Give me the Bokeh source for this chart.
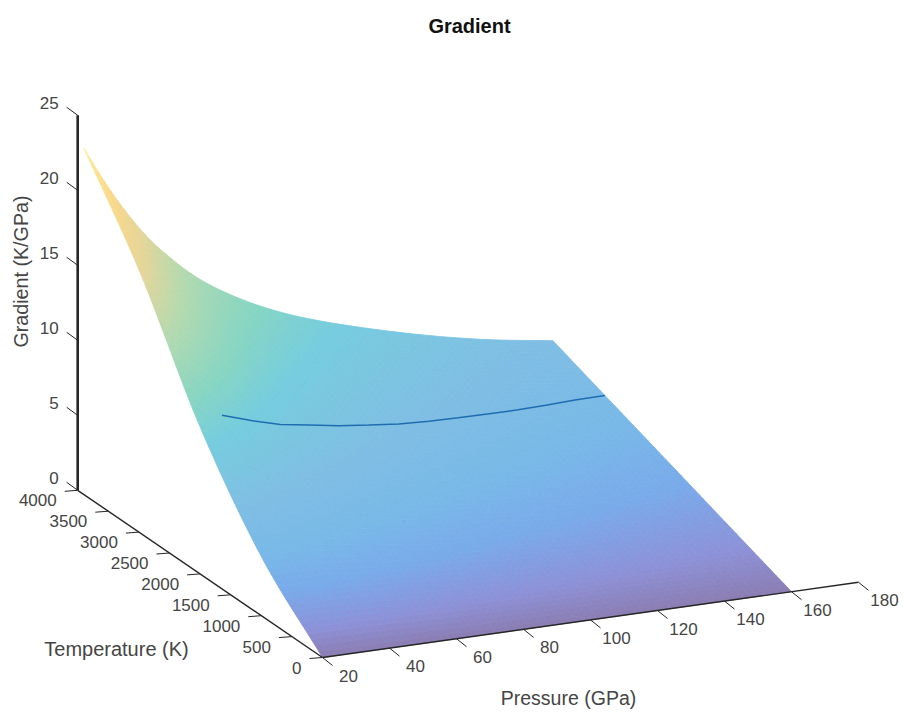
import numpy as np
from bokeh.plotting import figure
from bokeh.models import Range1d, ColumnDataSource
from bokeh.core.properties import value
from bokeh.embed import file_html
from bokeh.resources import INLINE

TITLE = "Gradient"
XLABEL = "Pressure (GPa)"
YLABEL = "Temperature (K)"
ZLABEL = "Gradient (K/GPa)"
P_TICKS = [20, 40, 60, 80, 100, 120, 140, 160, 180]
T_TICKS = [0, 500, 1000, 1500, 2000, 2500, 3000, 3500, 4000]
G_TICKS = [0, 5, 10, 15, 20, 25]

# surface
PRESSURE = [20, 25, 30, 35, 40, 45, 50, 55, 60, 70, 80, 90, 100, 110, 120, 130, 140, 150, 160]
TEMPERATURE = [0, 1000, 2000, 3000, 3900]
G_T0000 = [0.0] * 19
G_T1000 = [3.95, 3.9, 3.82, 3.72, 3.58, 3.44, 3.28, 3.13, 3.0, 2.74, 2.55, 2.35, 2.19, 2.05, 1.92, 1.79, 1.68, 1.59, 1.5]
G_T2000 = [9.8, 9.2, 8.65, 8.1, 7.65, 7.2, 6.8, 6.45, 6.15, 5.6, 5.12, 4.74, 4.42, 4.1, 3.83, 3.57, 3.36, 3.18, 3.01]
G_T3000 = [17.5, 16.0, 14.7, 13.5, 12.5, 11.6, 10.8, 10.1, 9.55, 8.6, 7.85, 7.2, 6.7, 6.22, 5.79, 5.38, 5.05, 4.77, 4.51]
G_T3900 = [23.1, 21.1, 19.3, 17.7, 16.3, 15.15, 14.1, 13.2, 12.45, 11.2, 10.2, 9.4, 8.72, 8.1, 7.53, 7.02, 6.57, 6.2, 5.87]

# curve lying on the surface
LINE_P = [30, 40, 50, 60, 70, 80, 90, 100, 110, 120, 130, 140, 150, 160]
LINE_T = [2190, 2260, 2330, 2410, 2470, 2530, 2585, 2640, 2710, 2780, 2850, 2920, 2990, 3050]

# colour against gradient value
CMAP_G = [0, 1.0, 2.5, 4.0, 6.0, 9.0, 11.0, 14.0, 17.0, 20.0, 23.0]
CMAP_R = [139, 142, 122, 120, 128, 118, 135, 178, 228, 250, 255]
CMAP_C = [125, 145, 170, 185, 190, 205, 214, 218, 214, 217, 236]
CMAP_B = [178, 215, 235, 232, 228, 222, 195, 176, 154, 140, 150]

TABLE = np.array([G_T0000, G_T1000, G_T2000, G_T3000, G_T3900])


def project(P, T, G):
    P, T, G = np.asarray(P, float), np.asarray(T, float), np.asarray(G, float)
    return 322 + 3.35 * (P - 20) - 0.0612 * T, 657 - 0.47 * (P - 20) - 0.0418 * T - 15.0 * G


def hermite(x, knots, vals):
    knots, vals = np.asarray(knots, float), np.asarray(vals, float)
    m = np.gradient(vals, knots)
    i = np.clip(np.searchsorted(knots, x) - 1, 0, len(knots) - 2)
    h = knots[i + 1] - knots[i]
    t = (x - knots[i]) / h
    return ((2 * t**3 - 3 * t**2 + 1) * vals[i] + (t**3 - 2 * t**2 + t) * h * m[i]
            + (-2 * t**3 + 3 * t**2) * vals[i + 1] + (t**3 - t**2) * h * m[i + 1])


def lookup(P, T):
    return hermite(T, TEMPERATURE, [hermite(P, PRESSURE, row) for row in TABLE])


p = figure(width=908, height=712, x_range=Range1d(0, 908), y_range=Range1d(712, 0),
           output_backend="svg", toolbar_location=None, min_border=0,
           x_axis_location=None, y_axis_location=None, outline_line_color=None,
           background_fill_color="white", border_fill_color="white")
p.grid.visible = False

# surface mesh
pm = np.arange(20, 160.01, 2.0)
tm = np.arange(0, 3900.01, 60.0)
xs, ys, cols = [], [], []
gm = np.array([[lookup(a, b) for a in pm] for b in tm])
sx, sy = project(*np.broadcast_arrays(pm[None, :], tm[:, None], gm))
for j in range(len(tm) - 1):
    for i in range(len(pm) - 1):
        g = gm[j:j + 2, i:i + 2].mean()
        xs.append([sx[j, i], sx[j, i + 1], sx[j + 1, i + 1], sx[j + 1, i]])
        ys.append([sy[j, i], sy[j, i + 1], sy[j + 1, i + 1], sy[j + 1, i]])
        r, c, b = np.interp(g, CMAP_G, CMAP_R), np.interp(g, CMAP_G, CMAP_C), np.interp(g, CMAP_G, CMAP_B)
        cols.append("#%02x%02x%02x" % (int(r), int(c), int(b)))
p.patches(xs="xs", ys="ys", fill_color="cols", line_color="cols", line_width=0.8,
          source=ColumnDataSource(dict(xs=xs, ys=ys, cols=cols)))

# curve
lg = [lookup(a, b) for a, b in zip(LINE_P, LINE_T)]
lx, ly = project(LINE_P, LINE_T, lg)
p.line(lx, ly, line_color="#1f6db0", line_width=1.5)

# axes
INK = "#262626"
TXT = "#454545"
FONT = value("Liberation Sans")
ax, ay = project([20, 180], [0, 0], [0, 0])
p.line(ax, ay, line_color=INK, line_width=1.4)
ax, ay = project([20, 20], [0, 4000], [0, 0])
p.line(ax, ay, line_color=INK, line_width=1.4)
ax, ay = project([20, 20], [4000, 4000], [0, 25])
p.line(ax, ay, line_color=INK, line_width=2.6)

zero = [0] * 9
tx, ty = project(P_TICKS, zero, zero)
p.segment(tx, ty, tx + 10, ty + 8, line_color=INK, line_width=1)
p.text(tx + 26, ty + 18, text=[str(v) for v in P_TICKS], text_font=FONT,
       text_font_size="17px", text_color=TXT, text_align="center", text_baseline="middle")

tx, ty = project([20] * 9, T_TICKS, zero)
p.segment(tx, ty, tx - 13, ty + 1, line_color=INK, line_width=1)
p.text(tx - 21, ty + 10, text=[str(v) for v in T_TICKS], text_font=FONT,
       text_font_size="17px", text_color=TXT, text_align="right", text_baseline="middle")

n = len(G_TICKS)
tx, ty = project([20] * n, [4000] * n, G_TICKS)
p.segment(tx, ty, tx - 11, ty - 8, line_color=INK, line_width=1)
p.text(tx - 19, ty - 12, text=[str(v) for v in G_TICKS], text_font=FONT,
       text_font_size="17px", text_color=TXT, text_align="right", text_baseline="middle")

# labels
p.text([469], [25], text=[TITLE], text_font=FONT, text_font_size="20px", text_font_style="bold",
       text_color="#111111", text_align="center", text_baseline="middle")
p.text([568], [697], text=[XLABEL], text_font=FONT, text_font_size="19.5px", text_color=TXT,
       text_align="center", text_baseline="middle")
p.text([116], [648], text=[YLABEL], text_font=FONT, text_font_size="20px", text_color=TXT,
       text_align="center", text_baseline="middle")
p.text([20], [271], text=[ZLABEL], text_font=FONT, text_font_size="19.7px", text_color=TXT,
       text_align="center", text_baseline="middle", angle=np.pi / 2)

open("out.html", "w").write(file_html(p, INLINE))
